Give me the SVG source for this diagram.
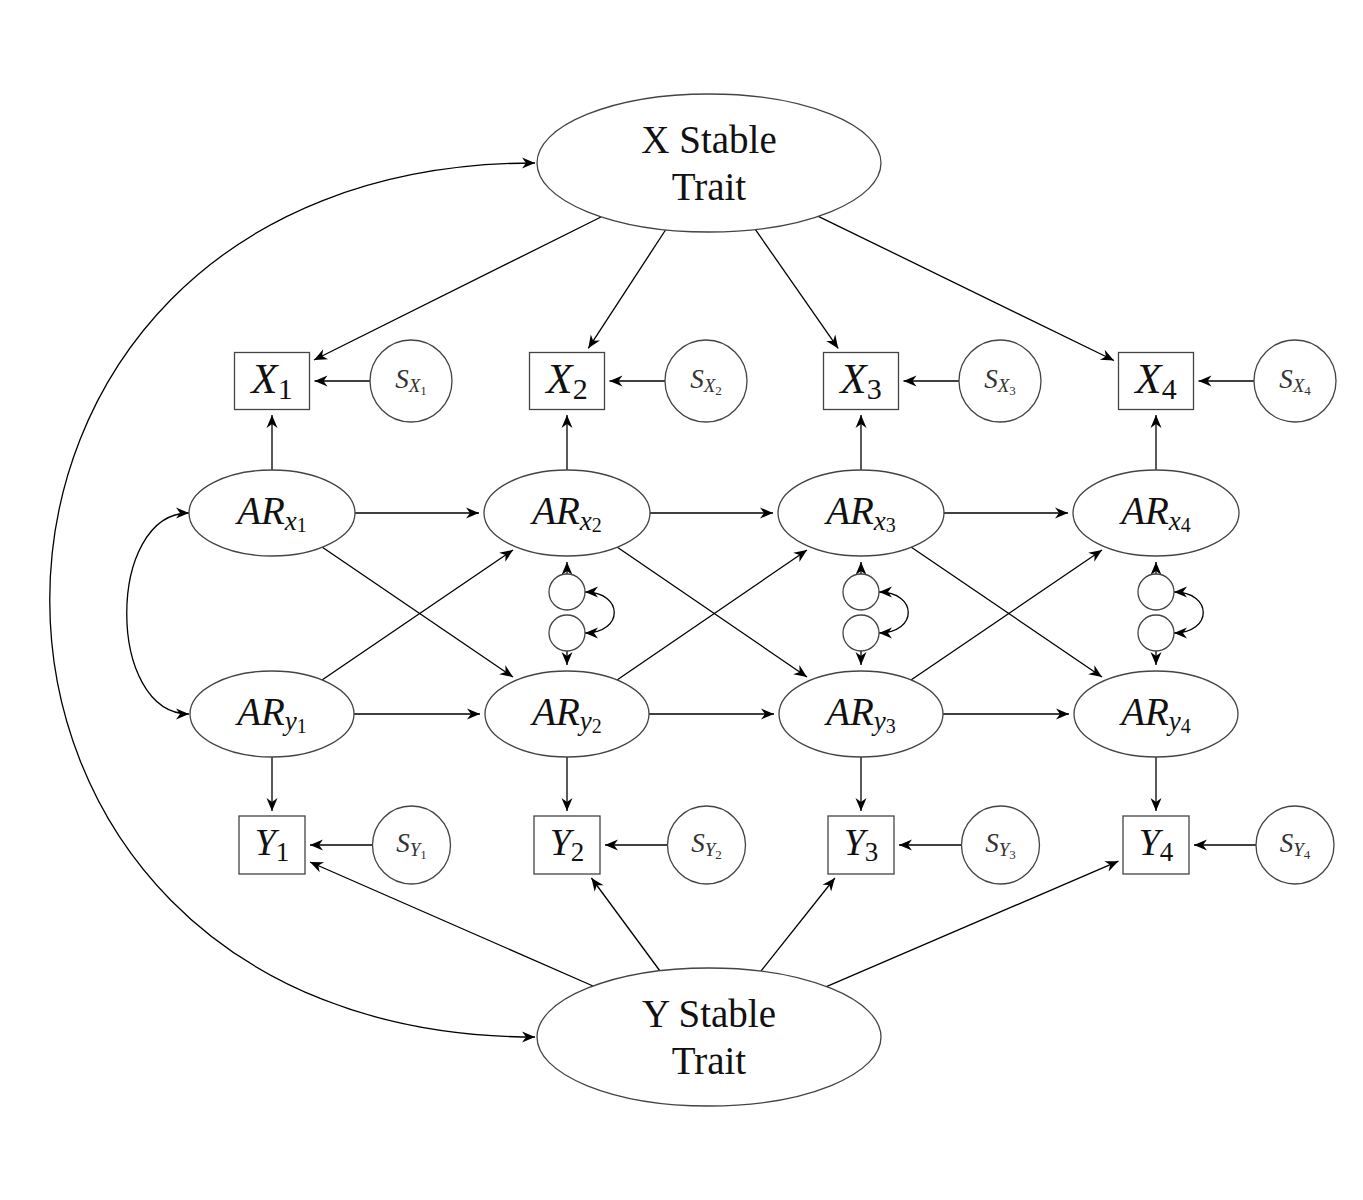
<svg xmlns="http://www.w3.org/2000/svg" width="1363" height="1200" viewBox="0 0 1363 1200">
<style>
.nd{fill:#fff;stroke:#444;stroke-width:1.3}
.e{fill:none;stroke:#000;stroke-width:1.3;marker-end:url(#ah)}
.b{fill:none;stroke:#000;stroke-width:1.3;marker-start:url(#ah);marker-end:url(#ah)}
.it{font-style:italic}
.tr{font-size:39px}
.xl{font-size:43px}
.yl{font-size:38px}
.ar{font-size:39px}
.sl{font-size:27px;fill:#333}
</style>
<defs>
<marker id="ah" viewBox="-14 -7 15 14" refX="0" refY="0" markerWidth="15" markerHeight="14" markerUnits="userSpaceOnUse" orient="auto-start-reverse">
<path d="M0,0 L-13,-5.5 L-9,0 L-13,5.5 Z" fill="#000"/>
</marker>
</defs>
<rect width="1363" height="1200" fill="#fff"/>

<g id="connectors">
<path class="b" d="M535,163 C-112,163 -112,1037 535,1037"/>
<path class="b" d="M189,513 C106,513 106,714 189,714"/>
<path class="e" d="M601,217 L314,360"/>
<path class="e" d="M665.5,230 L588.3,348.3"/>
<path class="e" d="M755.3,229.4 L838.2,348.4"/>
<path class="e" d="M818.3,216.3 L1114,360.5"/>
<path class="e" d="M593,986 L310,862"/>
<path class="e" d="M660,971 L591.4,878"/>
<path class="e" d="M761,971 L834.9,878"/>
<path class="e" d="M826.4,986.6 L1118.4,861.2"/>
<path class="e" d="M370,381 L314.5,381"/>
<path class="e" d="M665,381 L609.5,381"/>
<path class="e" d="M959,381 L903.5,381"/>
<path class="e" d="M1254,381 L1198.5,381"/>
<path class="e" d="M372.5,845 L310,845"/>
<path class="e" d="M667.5,845 L605,845"/>
<path class="e" d="M961.5,845 L899,845"/>
<path class="e" d="M1256.5,845 L1194,845"/>
<path class="e" d="M272,470 L272,415"/>
<path class="e" d="M567,470 L567,415"/>
<path class="e" d="M861,470 L861,415"/>
<path class="e" d="M1156,470 L1156,415"/>
<path class="e" d="M272,757 L272,811"/>
<path class="e" d="M567,757 L567,811"/>
<path class="e" d="M861,757 L861,811"/>
<path class="e" d="M1156,757 L1156,811"/>
<path class="e" d="M355,513 L479,513"/>
<path class="e" d="M650,513 L773,513"/>
<path class="e" d="M944,513 L1068,513"/>
<path class="e" d="M354,714 L480,714"/>
<path class="e" d="M649,714 L774,714"/>
<path class="e" d="M943,714 L1069,714"/>
<path class="e" d="M322,547 L513,677"/>
<path class="e" d="M617,547 L807,677"/>
<path class="e" d="M911,547 L1102,677"/>
<path class="e" d="M322,680 L513,550"/>
<path class="e" d="M617,680 L807,550"/>
<path class="e" d="M911,680 L1102,550"/>
<path class="e" d="M567,574 L567,562"/>
<path class="e" d="M861,574 L861,562"/>
<path class="e" d="M1156,574 L1156,562"/>
<path class="e" d="M567,651 L567,665"/>
<path class="e" d="M861,651 L861,665"/>
<path class="e" d="M1156,651 L1156,665"/>
<path class="b" d="M585,592 C624,592 624,633 585,633"/>
<path class="b" d="M879,592 C918,592 918,633 879,633"/>
<path class="b" d="M1174,592 C1213,592 1213,633 1174,633"/>
</g>

<g id="nodes" font-family="Liberation Serif, DejaVu Serif, serif" text-anchor="middle" fill="#111">
<g id="xtrait"><ellipse class="nd" cx="709" cy="163" rx="172" ry="69"/><text class="tr" x="709" y="153">X Stable</text><text class="tr" x="709" y="200">Trait</text></g>
<g id="ytrait"><ellipse class="nd" cx="709" cy="1037" rx="172" ry="69"/><text class="tr" x="709" y="1027">Y Stable</text><text class="tr" x="709" y="1074">Trait</text></g>

<g id="x1"><rect class="nd" x="234.5" y="352.5" width="75" height="57"/><text class="xl" x="272" y="393"><tspan class="it">X</tspan><tspan font-size="30" dy="6">1</tspan></text></g>
<g id="x2"><rect class="nd" x="529.5" y="352.5" width="75" height="57"/><text class="xl" x="567" y="393"><tspan class="it">X</tspan><tspan font-size="30" dy="6">2</tspan></text></g>
<g id="x3"><rect class="nd" x="823.5" y="352.5" width="75" height="57"/><text class="xl" x="861" y="393"><tspan class="it">X</tspan><tspan font-size="30" dy="6">3</tspan></text></g>
<g id="x4"><rect class="nd" x="1118.5" y="352.5" width="75" height="57"/><text class="xl" x="1156" y="393"><tspan class="it">X</tspan><tspan font-size="30" dy="6">4</tspan></text></g>

<g id="y1"><rect class="nd" x="239" y="816" width="66" height="58"/><text class="yl" x="272" y="855"><tspan class="it">Y</tspan><tspan font-size="27" dy="6">1</tspan></text></g>
<g id="y2"><rect class="nd" x="534" y="816" width="66" height="58"/><text class="yl" x="567" y="855"><tspan class="it">Y</tspan><tspan font-size="27" dy="6">2</tspan></text></g>
<g id="y3"><rect class="nd" x="828" y="816" width="66" height="58"/><text class="yl" x="861" y="855"><tspan class="it">Y</tspan><tspan font-size="27" dy="6">3</tspan></text></g>
<g id="y4"><rect class="nd" x="1123" y="816" width="66" height="58"/><text class="yl" x="1156" y="855"><tspan class="it">Y</tspan><tspan font-size="27" dy="6">4</tspan></text></g>

<g id="sx1"><circle class="nd" cx="411" cy="381" r="41"/><text class="sl" x="411" y="388"><tspan class="it">S</tspan><tspan class="it" font-size="19" dy="4">X</tspan><tspan font-size="13" dy="3">1</tspan></text></g>
<g id="sx2"><circle class="nd" cx="706" cy="381" r="41"/><text class="sl" x="706" y="388"><tspan class="it">S</tspan><tspan class="it" font-size="19" dy="4">X</tspan><tspan font-size="13" dy="3">2</tspan></text></g>
<g id="sx3"><circle class="nd" cx="1000" cy="381" r="41"/><text class="sl" x="1000" y="388"><tspan class="it">S</tspan><tspan class="it" font-size="19" dy="4">X</tspan><tspan font-size="13" dy="3">3</tspan></text></g>
<g id="sx4"><circle class="nd" cx="1295" cy="381" r="41"/><text class="sl" x="1295" y="388"><tspan class="it">S</tspan><tspan class="it" font-size="19" dy="4">X</tspan><tspan font-size="13" dy="3">4</tspan></text></g>

<g id="sy1"><circle class="nd" cx="411.5" cy="845" r="39"/><text class="sl" x="411.5" y="852"><tspan class="it">S</tspan><tspan class="it" font-size="19" dy="4">Y</tspan><tspan font-size="13" dy="3">1</tspan></text></g>
<g id="sy2"><circle class="nd" cx="706.5" cy="845" r="39"/><text class="sl" x="706.5" y="852"><tspan class="it">S</tspan><tspan class="it" font-size="19" dy="4">Y</tspan><tspan font-size="13" dy="3">2</tspan></text></g>
<g id="sy3"><circle class="nd" cx="1000.5" cy="845" r="39"/><text class="sl" x="1000.5" y="852"><tspan class="it">S</tspan><tspan class="it" font-size="19" dy="4">Y</tspan><tspan font-size="13" dy="3">3</tspan></text></g>
<g id="sy4"><circle class="nd" cx="1295" cy="845" r="39"/><text class="sl" x="1295" y="852"><tspan class="it">S</tspan><tspan class="it" font-size="19" dy="4">Y</tspan><tspan font-size="13" dy="3">4</tspan></text></g>

<g id="arx1"><ellipse class="nd" cx="272" cy="513" rx="83" ry="43"/><text class="ar" x="272" y="524"><tspan class="it">AR</tspan><tspan class="it" font-size="27" dy="6">x</tspan><tspan font-size="20" dy="2">1</tspan></text></g>
<g id="arx2"><ellipse class="nd" cx="567" cy="513" rx="83" ry="43"/><text class="ar" x="567" y="524"><tspan class="it">AR</tspan><tspan class="it" font-size="27" dy="6">x</tspan><tspan font-size="20" dy="2">2</tspan></text></g>
<g id="arx3"><ellipse class="nd" cx="861" cy="513" rx="83" ry="43"/><text class="ar" x="861" y="524"><tspan class="it">AR</tspan><tspan class="it" font-size="27" dy="6">x</tspan><tspan font-size="20" dy="2">3</tspan></text></g>
<g id="arx4"><ellipse class="nd" cx="1156" cy="513" rx="83" ry="43"/><text class="ar" x="1156" y="524"><tspan class="it">AR</tspan><tspan class="it" font-size="27" dy="6">x</tspan><tspan font-size="20" dy="2">4</tspan></text></g>

<g id="ary1"><ellipse class="nd" cx="272" cy="714" rx="82" ry="43"/><text class="ar" x="272" y="725"><tspan class="it">AR</tspan><tspan class="it" font-size="27" dy="5">y</tspan><tspan font-size="20" dy="3">1</tspan></text></g>
<g id="ary2"><ellipse class="nd" cx="567" cy="714" rx="82" ry="43"/><text class="ar" x="567" y="725"><tspan class="it">AR</tspan><tspan class="it" font-size="27" dy="5">y</tspan><tspan font-size="20" dy="3">2</tspan></text></g>
<g id="ary3"><ellipse class="nd" cx="861" cy="714" rx="82" ry="43"/><text class="ar" x="861" y="725"><tspan class="it">AR</tspan><tspan class="it" font-size="27" dy="5">y</tspan><tspan font-size="20" dy="3">3</tspan></text></g>
<g id="ary4"><ellipse class="nd" cx="1156" cy="714" rx="82" ry="43"/><text class="ar" x="1156" y="725"><tspan class="it">AR</tspan><tspan class="it" font-size="27" dy="5">y</tspan><tspan font-size="20" dy="3">4</tspan></text></g>

<g id="ex2"><circle class="nd" cx="567" cy="592" r="18"/></g>
<g id="ey2"><circle class="nd" cx="567" cy="633" r="18"/></g>
<g id="ex3"><circle class="nd" cx="861" cy="592" r="18"/></g>
<g id="ey3"><circle class="nd" cx="861" cy="633" r="18"/></g>
<g id="ex4"><circle class="nd" cx="1156" cy="592" r="18"/></g>
<g id="ey4"><circle class="nd" cx="1156" cy="633" r="18"/></g>
</g>
</svg>
